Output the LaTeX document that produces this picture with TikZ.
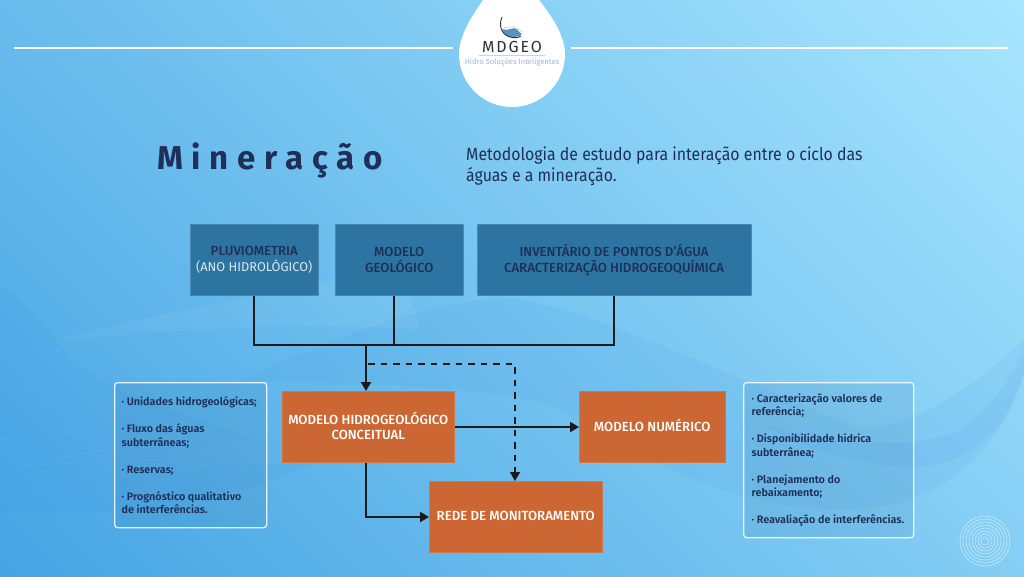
\documentclass[tikz,border=0pt]{standalone}
\usepackage{fontspec}
\setmainfont{Fira Sans}[BoldFont={Fira Sans Medium}]
\newfontfamily\spacedfont[LetterSpace=26.5]{Fira Sans}
\newfontfamily\logofont[LetterSpace=12]{Fira Sans}
\newfontfamily\introfont[FakeStretch=.9]{Fira Sans}
\newfontfamily\listfont{Fira Sans SemiBold}
\usetikzlibrary{arrows.meta,calc}
\definecolor{navy}{HTML}{1F2F57}
\definecolor{topbox}{HTML}{2C74A2}
\definecolor{orangebox}{HTML}{CC6733}
\definecolor{linkcol}{HTML}{1A1A1A}
\definecolor{bgA}{HTML}{45A4E3}
\definecolor{bgM}{HTML}{6BBFEF}
\definecolor{bgB}{HTML}{A8E5FE}
\definecolor{wavecol}{HTML}{2F80DA}
\definecolor{logoblue}{HTML}{5F8FC2}
\definecolor{logogray}{HTML}{2E3136}
\definecolor{logosub}{HTML}{9FB6D8}
\definecolor{logogreen}{HTML}{C5DDB4}
\newcommand{\lift}[1]{\raisebox{2pt}{#1}}
\tikzset{
  x=1pt,y=-1pt,
  topnode/.style={draw=topbox!85!white,line width=.5pt,fill=topbox,text=navy,font=\fontsize{13.2}{15.5}\selectfont\bfseries,align=center,anchor=north west,inner sep=0pt,minimum height=71pt},
  orangenode/.style={draw=orangebox!90!white,line width=.5pt,fill=orangebox,text=white,font=\fontsize{13.2}{15.5}\selectfont\bfseries,align=center,anchor=north west,inner sep=0pt,minimum height=71pt},
  listbox/.style={draw=white,draw opacity=.85,line width=1.3pt,rounded corners=3pt,fill=topbox,fill opacity=.13,text opacity=1,text=navy,font=\listfont\fontsize{10.8}{13.5}\selectfont,align=left,anchor=north west,inner sep=0pt},
  link/.style={draw=linkcol,line width=2.3pt},
  linkarrow/.style={link,-{Triangle[length=9pt,width=10pt]}},
  linkdash/.style={draw=linkcol,line width=1.5pt,dash pattern=on 6.5pt off 6pt,-{Triangle[length=9pt,width=10pt]}},
  wavelite/.style={fill=white,fill opacity=.05,draw=none},
  wavedark/.style={fill=wavecol,fill opacity=.07,draw=none},
  waveline/.style={draw=white,draw opacity=.07,line width=.4pt},
  rulewhite/.style={draw=white,line width=2pt},
  ringline/.style={draw=white,draw opacity=.55,line width=.6pt},
}
\begin{document}
\begin{tikzpicture}
\useasboundingbox (0,0) rectangle (1024,576);
\begin{scope}
\clip (0,0) rectangle (1024,576);
\shade[bottom color=bgA,middle color=bgM,top color=bgB,shading angle=-45] (-54,-278) rectangle (1078,854);
% waves
\fill[wavelite] (57,340) .. controls (150,315) and (260,295) .. (400,268) -- (420,330) .. controls (300,320) and (180,330) .. (57,340) -- cycle;
\fill[wavedark] (0,288) .. controls (30,295) and (45,335) .. (77,363) .. controls (120,400) and (240,430) .. (317,463) .. controls (240,495) and (160,512) .. (80,512) -- (0,512) -- cycle;
\fill[wavedark] (240,380) .. controls (320,345) and (420,300) .. (512,298) .. controls (590,310) and (720,370) .. (862,430) .. controls (930,420) and (980,380) .. (1024,340) -- (1024,372) .. controls (1000,460) and (930,510) .. (845,510) .. controls (740,510) and (640,460) .. (560,410) .. controls (500,385) and (380,385) .. (240,380) -- cycle;
\fill[wavedark] (762,425) .. controls (840,445) and (920,450) .. (960,430) .. controls (990,410) and (1010,380) .. (1024,350) -- (1024,372) .. controls (1005,440) and (960,470) .. (900,467) .. controls (860,465) and (810,450) .. (762,425) -- cycle;
\foreach \i in {0,...,22} {
  \draw[waveline] (0,296+\i*9.5) .. controls (30,304+\i*9) and (60,372+\i*5) .. (120,400+\i*3.5) .. controls (180,425+\i*2) and (260,440+\i) .. (317,463);
}
\end{scope}
% logo drop
\fill[white] (483,0) .. controls (478,8) and (459,32) .. (459,54) arc[start angle=180,end angle=0,radius=53] .. controls (565,32) and (545,8) .. (539,0) -- cycle;
\fill[logoblue] (502,29) .. controls (508,32) and (513,26) .. (517,29) .. controls (519,32) and (520,33) .. (522,34) .. controls (520,37) and (510,39) .. (505,35) -- cycle;
\draw[logogreen,line width=.5pt] (503,27) .. controls (508,30) and (513,24) .. (518,28) .. controls (520,31) and (521,31) .. (523,32);
\draw[logogray,line width=.9pt] (502,17) .. controls (499,24) and (500,34) .. (510,37) .. controls (514,38) and (518,38) .. (521,36);
\node[text=logogray,font=\logofont\fontsize{16}{17}\selectfont] (logoname) at (512,47) {MDGEO};
\draw[logogreen,line width=.5pt] (479,55.5) -- (545,55.5);
\node[text=logosub,font=\fontsize{7.6}{10}\selectfont] (logosubtext) at (512,62.5) {Hidro Soluções Inteligentes};
% top rules
\draw[rulewhite] (14,47.5) -- (453,47.5);
\draw[rulewhite] (571,47.5) -- (1008,47.5);
% headings
\node[anchor=base west,inner sep=0pt,text=navy,font=\spacedfont\fontsize{33}{36}\selectfont\bfseries] (title) at (157,169) {Mineração};
\node[anchor=north west,inner sep=0pt,text=navy,font=\introfont\fontsize{17.6}{21}\selectfont,align=left] (intro) at (466,146.5) {Metodologia de estudo para interação entre o ciclo das\\águas e a mineração.};
% input boxes
\node[topnode,minimum width=128pt] (pluvio) at (190,224) {PLUVIOMETRIA\\{\color{white!82!topbox}\mdseries\fontsize{12.8}{15.5}\selectfont (ANO HIDROLÓGICO)}};
\node[topnode,minimum width=128pt] (geo) at (335,224) {MODELO\\GEOLÓGICO};
\node[topnode,minimum width=273.5pt] (inv) at (477,224) {INVENTÁRIO DE PONTOS D'ÁGUA\\CARACTERIZAÇÃO HIDROGEOQUÍMICA};
% process boxes
\node[orangenode,minimum width=172pt] (conc) at (282,391) {\lift{MODELO HIDROGEOLÓGICO}\\\lift{CONCEITUAL}};
\node[orangenode,minimum width=146pt] (num) at (579,391) {\lift{MODELO NUMÉRICO}};
\node[orangenode,minimum width=173pt] (rede) at (429,481) {\lift{REDE DE MONITORAMENTO}};
% lists
\node[listbox,minimum width=152pt,minimum height=145pt] (left) at (114,382) {\begin{minipage}[c][138pt][c]{152pt}\leftskip=7pt\relax
· Unidades hidrogeológicas;\\[13.5pt]
· Fluxo das águas\\subterrâneas;\\[13.5pt]
· Reservas;\\[13.5pt]
· Prognóstico qualitativo\\de interferências.\end{minipage}};
\node[listbox,minimum width=170pt,minimum height=155pt] (right) at (743,382) {\begin{minipage}[c][155pt][c]{170pt}\leftskip=8pt\relax
· Caracterização valores de\\referência;\\[13.5pt]
· Disponibilidade hídrica\\subterrânea;\\[13.5pt]
· Planejamento do\\rebaixamento;\\[13.5pt]
· Reavaliação de interferências.\end{minipage}};
% connectors
\coordinate (bus) at (366,345);
\coordinate (dashstart) at (368,364);
\coordinate (pdrop) at (254,296);
\draw[link] (pdrop) |- (614,345) -- (614,296);
\draw[link] (394,296) -- (394,345);
\draw[linkarrow] (bus) -- (bus |- conc.north);
\draw[linkdash] (dashstart) -| (515,481);
\draw[linkarrow] (conc.east |- 0,427) -- (num.west |- 0,427);
\draw[linkarrow] (366,463) |- (rede.west |- 0,517);
% rings
\foreach \r in {4,7,10,13,16,19,22,25} \draw[ringline] (985,541) circle[radius=\r];
\end{tikzpicture}
\end{document}
